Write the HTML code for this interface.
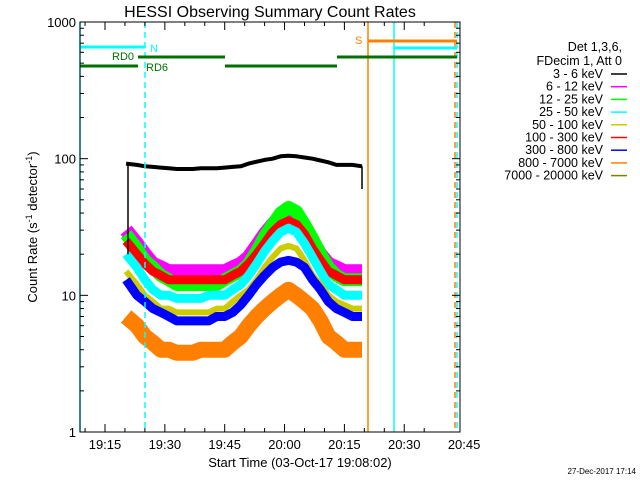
<!DOCTYPE html>
<html><head><meta charset="utf-8"><style>
body{margin:0;background:#fff;}
svg{display:block;font-family:"Liberation Sans",sans-serif;}
</style></head><body>
<svg id="c" width="640" height="480">
<text x="270" y="17" font-size="16" text-anchor="middle">HESSI Observing Summary Count Rates</text>
<text x="300" y="467" font-size="13" text-anchor="middle">Start Time (03-Oct-17 19:08:02)</text>
<text transform="translate(37,227) rotate(-90)" font-size="13" text-anchor="middle">Count Rate (s<tspan font-size="9" dy="-5">-1</tspan><tspan dy="5"> detector</tspan><tspan font-size="9" dy="-5">-1</tspan><tspan dy="5">)</tspan></text>
<text x="636" y="474" font-size="8" text-anchor="end">27-Dec-2017 17:14</text>
<g id="marks"></g>
<g id="axes"></g>
<g id="legend"></g>
</svg>
<script>
const times=[21,23,25,27,29,31,33,35,37,39,41,43,45,47,49,51,53,55,57,59,61,63,65,67,69,71,73,75,77,79];
const s3_6=[92,90,88,87,86,85,84,84,84,85,85,85,86,87,88,92,95,98,100,104,105,104,102,100,97,94,90,90,90,88];
const s6_12=[30,24,20,17,16,15,15,15,15,15,15,15,15,16,17,19,23,28,33,38,40,38,32,25,20,17,16,15,15,15];
const s12_25=[28,22,18,16,14,13,12,12,12,12,12,12,13,14,15,17,21,27,33,40,44,41,33,26,20,16,14,13,13,13];
const s100_300=[25,20,17,15,14,13,13,13,13,13,13,13,13,14,15,17,20,24,29,33,35,33,28,22,18,15,14,13,13,13];
const s25_50=[20,16,13,11,10,10,9.5,9.5,9.5,9.5,10,10,10,11,12,14,17,21,25,29,31,29,24,19,15,12,11,10,10,10];
const s50_100=[15,12,10,9,8,8,7.5,7.5,7.5,7.5,7.5,8,8,9,10,11,13,16,19,22,23,22,18,14,12,10,9,8.5,8,8];
const s300_800=[13,10,9,8,7.5,7,6.5,6.5,6.5,6.5,6.5,7,7,7.5,8.5,10,12,14,16,17.5,18,17.5,16,13,11,9,8,7.5,7,7];
const s800_7000=[7,6,5,4.5,4,4,3.8,3.8,3.8,4,4,4,4,4.5,5,6,7,8,9,10,11,10,9,8,6.5,5,4.5,4,4,4];
const yTicks=[1,10,100,1000];
const xTickLabels=["19:15","19:30","19:45","20:00","20:15","20:30","20:45"];
const legendLabels=["3 - 6 keV","6 - 12 keV","12 - 25 keV","25 - 50 keV","50 - 100 keV","100 - 300 keV","300 - 800 keV","800 - 7000 keV","7000 - 20000 keV"];
const legendColors=["#000","#ff00ff","#00ff00","#00ffff","#cccc00","#ff0000","#0000ff","#ff8000","#808000"];
const NS="http://www.w3.org/2000/svg";
const L=80,R=460,T=22,B=432;
const xs=m=>105+(m-15)*3.99;
const ys=v=>B-(B-T)/3*Math.log10(v);
function mk(tag,attrs,parent){const e=document.createElementNS(NS,tag);for(const k in attrs)e.setAttribute(k,attrs[k]);parent.appendChild(e);return e;}
const marks=document.getElementById('marks'),axes=document.getElementById('axes'),leg=document.getElementById('legend');
function series(arr,color,w,name){
  let d="";
  arr.forEach((v,i)=>{let x=xs(times[i]);if(i===0)x=xs(times[i]-0.7);if(i===arr.length-1)x=xs(times[i]+0.4);d+=(i?"L":"M")+x.toFixed(1)+","+ys(v).toFixed(1);});
  const p=mk('path',{d:d,fill:'none',stroke:color,'stroke-width':w,'stroke-linejoin':'round'},marks);
  
  
}
series(s800_7000,"#ff8000",16,"series-800-7000kev");
series(s6_12,"#ff00ff",14,"series-6-12kev");
series(s12_25,"#00ff00",13,"series-12-25kev");
series(s100_300,"#ff0000",9,"series-100-300kev");
series(s25_50,"#00ffff",9,"series-25-50kev");
series(s50_100,"#cccc00",6,"series-50-100kev");
series(s300_800,"#0000ff",9,"series-300-800kev");
series(s3_6,"#000",4,"series-3-6kev");
mk('line',{x1:128,y1:ys(s3_6[0]),x2:128,y2:ys(20),stroke:'#000','stroke-width':1.5},marks);
mk('line',{x1:362,y1:ys(s3_6[29]),x2:362,y2:ys(60),stroke:'#000','stroke-width':1.5},marks);
const vl=[[80,'#00ffff',''],[145,'#00ffff','6,4'],[368,'#ff8000',''],[394,'#00ffff',''],[455,'#ff8000','6,4'],[457,'#00ffff','6,4']];
vl.forEach(v=>{const l=mk('line',{x1:v[0],y1:T,x2:v[0],y2:B,stroke:v[1],'stroke-width':1.5,'stroke-dasharray':v[2]},axes);});
const bars=[[80,145,47,'#00ffff'],[394,457,48,'#00ffff'],[368,457,41,'#ff8000'],[138,225,57,'#007000'],[80,138,66,'#007000'],[225,337,66,'#007000'],[337,457,57,'#007000']];
bars.forEach(b=>{const l=mk('line',{x1:b[0],y1:b[2],x2:b[1],y2:b[2],stroke:b[3],'stroke-width':3},axes);});
[["N",150,52,'#00ffff'],["S",355,44,'#ff8000'],["RD0",112,60,'#007000'],["RD6",146,71,'#007000']].forEach(t=>{const e=mk('text',{x:t[1],y:t[2],fill:t[3],'font-size':11},axes);e.textContent=t[0];});
mk('rect',{x:L,y:T,width:R-L,height:B-T,fill:'none',stroke:'#000','stroke-width':1},axes);
yTicks.forEach(v=>{
  const y=ys(v);
  mk('line',{x1:L,y1:y,x2:L+8,y2:y,stroke:'#000'},axes);mk('line',{x1:R,y1:y,x2:R-8,y2:y,stroke:'#000'},axes);
  const t=mk('text',{x:L-4,y:y+5,'font-size':13,'text-anchor':'end'},axes);t.textContent=String(v);
  
  if(v<1000)for(let k=2;k<10;k++){const yy=ys(v*k);mk('line',{x1:L,y1:yy,x2:L+4,y2:yy,stroke:'#000'},axes);mk('line',{x1:R,y1:yy,x2:R-4,y2:yy,stroke:'#000'},axes);}
});
for(let m=10;m<=95;m+=5){const x=xs(m);if(x<L||x>R)continue;const len=(m%15===0)?8:4;mk('line',{x1:x,y1:B,x2:x,y2:B-len,stroke:'#000'},axes);mk('line',{x1:x,y1:T,x2:x,y2:T+len,stroke:'#000'},axes);}
xTickLabels.forEach((s,i)=>{const t=mk('text',{x:xs(15+15*i),y:449,'font-size':13,'text-anchor':'middle'},axes);t.textContent=s;});
[["Det 1,3,6,",51],["FDecim 1, Att 0",65]].forEach(h=>{const t=mk('text',{x:622,y:h[1],'font-size':12.5,'text-anchor':'end'},leg);t.textContent=h[0];});
legendLabels.forEach((s,i)=>{const y=78+i*12.7;const t=mk('text',{x:603,y:y,'font-size':12.5,'text-anchor':'end'},leg);t.textContent=s;
mk('line',{x1:611,y1:y-4,x2:627,y2:y-4,stroke:legendColors[i],'stroke-width':1.5},leg);});
</script>
</body></html>
